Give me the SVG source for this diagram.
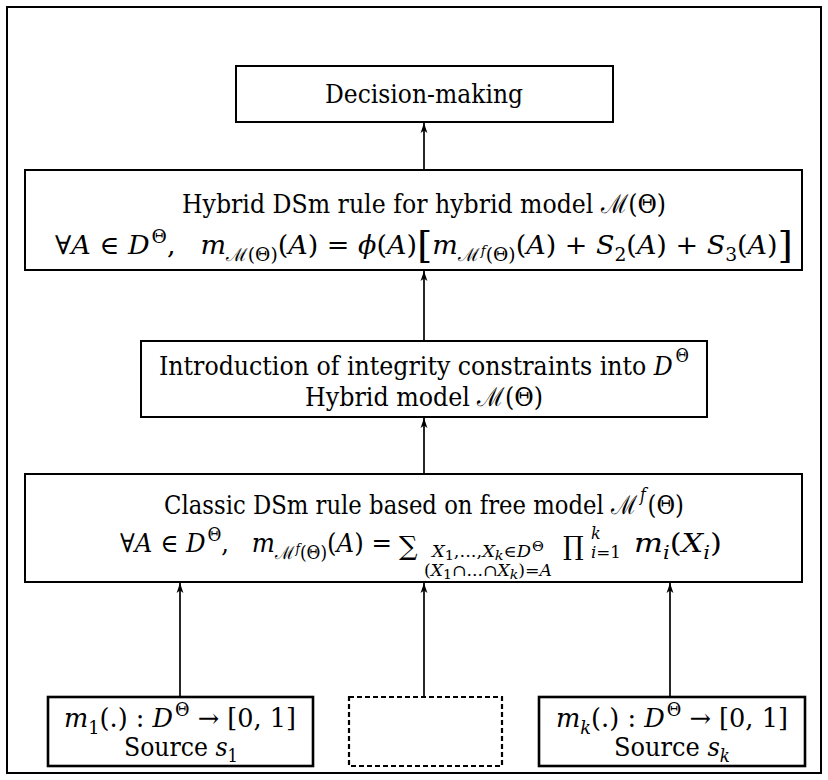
<svg xmlns="http://www.w3.org/2000/svg" width="828" height="780" viewBox="0 0 828 780">
<defs>
<marker id="ah" viewBox="0 0 10 8" refX="10" refY="4" markerWidth="10" markerHeight="8" markerUnits="userSpaceOnUse" orient="auto">
<path d="M0,0.6 L10,4 L0,7.4 L2.5,4 z" fill="#000"/>
</marker>
</defs>
<style>
.frame{fill:none;stroke:#000;stroke-width:2}
.box{fill:#fff;stroke:#000;stroke-width:2}
.src{fill:#fff;stroke:#000;stroke-width:2.6}
.dash{fill:#fff;stroke:#000;stroke-width:2.2;stroke-dasharray:5 3}
.t{font-family:'DejaVu Serif','Liberation Serif',serif;font-size:26px;fill:#000}
.i{font-style:italic}
.s{font-size:18px}
.sb{font-size:16px}
.ss{font-size:13px}
.big{font-size:38px}
.conn{stroke:#000;stroke-width:1.7;fill:none;marker-end:url(#ah)}
</style>
<rect class="frame" x="7" y="7" width="814" height="766"/>
<g id="connectors">
<line class="conn" x1="424" y1="170" x2="424" y2="123"/>
<line class="conn" x1="424" y1="341" x2="424" y2="271"/>
<line class="conn" x1="424" y1="474" x2="424" y2="418"/>
<line class="conn" x1="180" y1="697" x2="180" y2="583"/>
<line class="conn" x1="424" y1="697" x2="424" y2="583"/>
<line class="conn" x1="670" y1="697" x2="670" y2="583"/>
</g>
<g id="decision">
<rect class="box" x="236" y="66" width="377" height="56"/>
<text class="t" x="424" y="103" text-anchor="middle" textLength="198" lengthAdjust="spacingAndGlyphs">Decision-making</text>
</g>
<g id="hybrid-rule">
<rect class="box" x="25" y="170" width="777" height="100"/>
<text class="t" x="424" y="213" text-anchor="middle" textLength="484" lengthAdjust="spacingAndGlyphs">Hybrid DSm rule for hybrid model ℳ(Θ)</text>
<text class="t" x="424" y="254" text-anchor="middle" textLength="738" lengthAdjust="spacingAndGlyphs">∀<tspan class="i">A</tspan> ∈ <tspan class="i">D</tspan><tspan class="s" dx="2" dy="-11">Θ</tspan><tspan dy="11">,</tspan><tspan class="i" dx="24">m</tspan><tspan class="s" dy="7">ℳ(Θ)</tspan><tspan dy="-7">(</tspan><tspan class="i">A</tspan>) = <tspan class="i">ϕ</tspan>(<tspan class="i">A</tspan>)<tspan class="big" dy="4">[</tspan><tspan class="i" dy="-4">m</tspan><tspan class="s" dy="7">ℳ<tspan class="ss i" dx="1" dy="-6">f</tspan><tspan dy="6">(Θ)</tspan></tspan><tspan dy="-7">(</tspan><tspan class="i">A</tspan>) + <tspan class="i">S</tspan><tspan class="s" dy="7">2</tspan><tspan dy="-7">(</tspan><tspan class="i">A</tspan>) + <tspan class="i">S</tspan><tspan class="s" dy="7">3</tspan><tspan dy="-7">(</tspan><tspan class="i">A</tspan>)<tspan class="big" dy="4">]</tspan></text>
</g>
<g id="integrity">
<rect class="box" x="141" y="341" width="566" height="76"/>
<text class="t" x="424" y="375" text-anchor="middle" textLength="530" lengthAdjust="spacingAndGlyphs">Introduction of integrity constraints into <tspan class="i">D</tspan><tspan class="s" dx="3" dy="-13">Θ</tspan></text>
<text class="t" x="424" y="406" text-anchor="middle" textLength="238" lengthAdjust="spacingAndGlyphs">Hybrid model ℳ(Θ)</text>
</g>
<g id="classic-rule">
<rect class="box" x="25" y="474" width="777" height="108"/>
<text class="t" x="424" y="514" text-anchor="middle" textLength="520" lengthAdjust="spacingAndGlyphs">Classic DSm rule based on free model ℳ<tspan class="s i" dx="3" dy="-13">f</tspan><tspan dx="2" dy="13">(Θ)</tspan></text>
<text class="t" x="120" y="552" textLength="272" lengthAdjust="spacingAndGlyphs">∀<tspan class="i">A</tspan> ∈ <tspan class="i">D</tspan><tspan class="s" dx="2" dy="-11">Θ</tspan><tspan dy="11">,</tspan><tspan class="i" dx="24">m</tspan><tspan class="s" dy="7">ℳ<tspan class="ss i" dx="1" dy="-6">f</tspan><tspan dy="6">(Θ)</tspan></tspan><tspan dy="-7">(</tspan><tspan class="i">A</tspan>) =</text>
<text class="t" x="399" y="555" font-size="30">∑</text>
<text class="t sb" x="488" y="557" text-anchor="middle" textLength="112" lengthAdjust="spacingAndGlyphs"><tspan class="i">X</tspan><tspan class="ss" dy="3">1</tspan><tspan dy="-3">,...,</tspan><tspan class="i">X</tspan><tspan class="ss i" dy="3">k</tspan><tspan dy="-3">∈</tspan><tspan class="i">D</tspan><tspan class="ss" dx="1" dy="-6">Θ</tspan></text>
<text class="t sb" x="488" y="576" text-anchor="middle" textLength="128" lengthAdjust="spacingAndGlyphs">(<tspan class="i">X</tspan><tspan class="ss" dy="3">1</tspan><tspan dy="-3">∩...∩</tspan><tspan class="i">X</tspan><tspan class="ss i" dy="3">k</tspan><tspan dy="-3">)=</tspan><tspan class="i">A</tspan></text>
<text class="t" x="563" y="555" font-size="30">∏</text>
<text class="t sb i" x="591" y="539">k</text>
<text class="t sb" x="591" y="558" textLength="30" lengthAdjust="spacingAndGlyphs"><tspan class="i">i</tspan>=1</text>
<text class="t" x="634" y="552" textLength="88" lengthAdjust="spacingAndGlyphs"><tspan class="i">m</tspan><tspan class="s i" dy="7">i</tspan><tspan dy="-7">(</tspan><tspan class="i">X</tspan><tspan class="s i" dy="7">i</tspan><tspan dy="-7">)</tspan></text>
</g>
<g id="source-1">
<rect class="src" x="48" y="697" width="265" height="69"/>
<text class="t" x="180" y="727" text-anchor="middle" textLength="232" lengthAdjust="spacingAndGlyphs"><tspan class="i">m</tspan><tspan class="s" dy="7">1</tspan><tspan dy="-7">(.) : </tspan><tspan class="i">D</tspan><tspan class="s" dx="2" dy="-11">Θ</tspan><tspan dy="11"> →</tspan> [0, 1]</text>
<text class="t" x="181" y="756" text-anchor="middle" textLength="114" lengthAdjust="spacingAndGlyphs">Source <tspan class="i">s</tspan><tspan class="s" dy="6">1</tspan></text>
</g>
<g id="source-dots">
<rect class="dash" x="349" y="697" width="153" height="69"/>
</g>
<g id="source-k">
<rect class="src" x="539" y="697" width="266" height="69"/>
<text class="t" x="672" y="727" text-anchor="middle" textLength="232" lengthAdjust="spacingAndGlyphs"><tspan class="i">m</tspan><tspan class="s i" dy="7">k</tspan><tspan dy="-7">(.) : </tspan><tspan class="i">D</tspan><tspan class="s" dx="2" dy="-11">Θ</tspan><tspan dy="11"> →</tspan> [0, 1]</text>
<text class="t" x="672" y="756" text-anchor="middle" textLength="116" lengthAdjust="spacingAndGlyphs">Source <tspan class="i">s</tspan><tspan class="s i" dy="6">k</tspan></text>
</g>
</svg>
